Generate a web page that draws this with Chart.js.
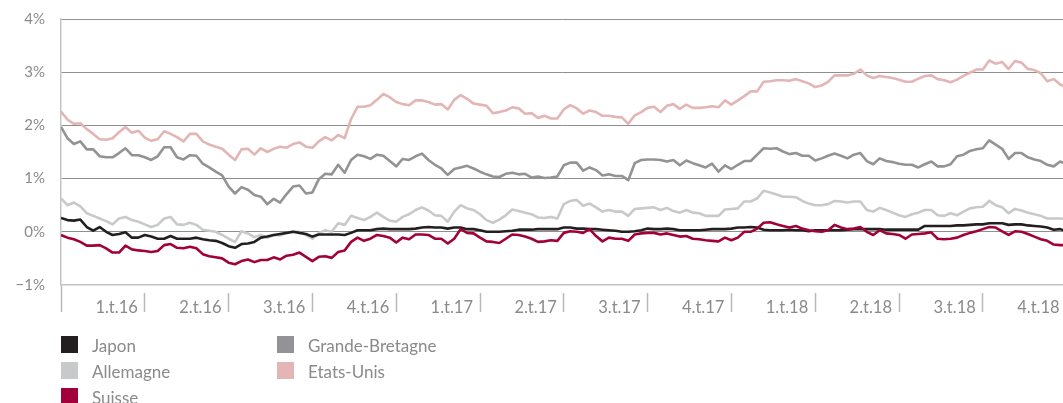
<!DOCTYPE html>
<html><head><meta charset="utf-8">
<script src="https://cdn.jsdelivr.net/npm/chart.js@4"></script>
<style>
html,body{margin:0;padding:0;background:#fff;}
#wrap{position:relative;width:1063px;height:403px;overflow:hidden;background:#fff;}
#c{position:absolute;left:0;top:0;}
.sw{position:absolute;width:17px;height:17px;}
.lt{position:absolute;font-family:Lato,"Open Sans",sans-serif;font-size:17px;color:#8a8a8a;line-height:17px;white-space:nowrap;}
</style></head>
<body>
<div id="wrap"><canvas id="c" width="1063" height="403"></canvas><div id="legend"></div></div>
<script>
const quarterLabels = ['1.t.16','2.t.16','3.t.16','4.t.16','1.t.17','2.t.17','3.t.17','4.t.17','1.t.18','2.t.18','3.t.18','4.t.18'];
const quarterTickWeeks = [0,13,26,39,52,65,78,91,104,117,130,143,156];
const yTicks = [-1,0,1,2,3,4];

const japon = [0.26,0.22,0.21,0.23,0.09,0.02,0.09,0.00,-0.06,-0.04,-0.01,-0.11,-0.11,-0.06,-0.09,-0.13,-0.13,-0.08,-0.13,-0.13,-0.13,-0.11,-0.14,-0.16,-0.17,-0.21,-0.27,-0.30,-0.23,-0.22,-0.19,
 -0.11,-0.09,-0.06,-0.04,-0.02,0.00,-0.02,-0.04,-0.09,-0.05,-0.05,-0.05,-0.05,-0.06,-0.02,0.03,0.03,0.03,0.05,0.06,0.05,0.05,0.05,0.05,0.06,0.08,0.09,0.08,0.08,0.06,0.08,
 0.08,0.05,0.05,0.03,0.00,0.00,0.00,0.01,0.02,0.04,0.04,0.04,0.05,0.05,0.05,0.05,0.08,0.08,0.06,0.06,0.05,0.05,0.04,0.03,0.02,0.00,0.00,0.01,0.03,0.06,0.05,
 0.05,0.06,0.05,0.03,0.03,0.03,0.03,0.04,0.05,0.05,0.05,0.06,0.08,0.08,0.09,0.08,0.04,0.03,0.03,0.03,0.04,0.03,0.03,0.01,0.03,0.03,0.03,0.03,0.03,0.04,0.05,
 0.05,0.05,0.05,0.05,0.04,0.04,0.04,0.04,0.04,0.04,0.11,0.11,0.11,0.11,0.11,0.12,0.12,0.13,0.14,0.14,0.16,0.16,0.16,0.13,0.14,0.14,0.12,0.11,0.10,0.08,0.04,0.05,0.01];

const allemagne = [0.63,0.50,0.55,0.48,0.35,0.30,0.25,0.20,0.14,0.25,0.28,0.22,0.19,0.14,0.09,0.13,0.25,0.28,0.14,0.13,0.17,0.13,0.04,0.02,0.00,-0.06,-0.13,-0.19,0.01,-0.03,-0.10,
 -0.06,-0.11,-0.06,-0.07,-0.02,0.00,0.00,-0.06,-0.13,-0.02,0.03,0.00,0.16,0.13,0.30,0.26,0.22,0.28,0.36,0.28,0.21,0.19,0.28,0.33,0.41,0.46,0.40,0.31,0.30,0.19,0.38,
 0.50,0.44,0.41,0.33,0.22,0.17,0.23,0.31,0.42,0.39,0.36,0.33,0.27,0.26,0.28,0.25,0.52,0.58,0.60,0.49,0.53,0.46,0.38,0.41,0.38,0.38,0.30,0.43,0.44,0.45,0.46,
 0.41,0.45,0.39,0.36,0.41,0.36,0.35,0.30,0.30,0.30,0.42,0.43,0.44,0.57,0.57,0.63,0.77,0.74,0.70,0.66,0.66,0.65,0.58,0.53,0.50,0.50,0.52,0.58,0.57,0.55,0.57,
 0.57,0.41,0.38,0.45,0.41,0.36,0.31,0.28,0.33,0.36,0.41,0.41,0.31,0.30,0.35,0.31,0.38,0.44,0.46,0.47,0.58,0.50,0.46,0.35,0.43,0.40,0.36,0.33,0.30,0.25,0.25,0.25,0.24];

const suisse = [-0.06,-0.11,-0.14,-0.19,-0.26,-0.26,-0.25,-0.31,-0.39,-0.39,-0.26,-0.33,-0.35,-0.36,-0.38,-0.36,-0.25,-0.23,-0.30,-0.31,-0.28,-0.31,-0.42,-0.46,-0.48,-0.50,-0.58,-0.61,-0.55,-0.52,-0.57,
 -0.53,-0.53,-0.48,-0.52,-0.45,-0.43,-0.39,-0.47,-0.55,-0.47,-0.46,-0.49,-0.38,-0.35,-0.19,-0.11,-0.17,-0.13,-0.06,-0.08,-0.11,-0.20,-0.11,-0.14,-0.05,-0.05,-0.06,-0.13,-0.13,-0.22,-0.13,
 0.05,-0.02,-0.03,-0.11,-0.18,-0.19,-0.21,-0.13,-0.05,-0.06,-0.09,-0.13,-0.19,-0.18,-0.16,-0.17,-0.02,0.01,0.00,-0.02,0.05,-0.08,-0.18,-0.11,-0.13,-0.13,-0.17,-0.05,-0.03,-0.02,-0.02,
 -0.05,-0.03,-0.06,-0.09,-0.08,-0.13,-0.14,-0.16,-0.17,-0.18,-0.11,-0.16,-0.11,0.00,0.00,0.06,0.17,0.18,0.14,0.11,0.08,0.11,0.06,0.03,0.01,0.00,0.03,0.13,0.08,0.05,0.06,
 0.09,0.00,-0.06,0.03,-0.03,-0.04,-0.06,-0.13,-0.05,-0.04,-0.03,-0.01,-0.13,-0.14,-0.13,-0.11,-0.06,-0.02,0.01,0.05,0.09,0.08,0.01,-0.06,0.01,0.00,-0.04,-0.09,-0.14,-0.17,-0.24,-0.25,-0.25];

const grandeBretagne = [1.97,1.76,1.65,1.70,1.55,1.55,1.42,1.40,1.40,1.48,1.57,1.44,1.44,1.40,1.35,1.42,1.59,1.59,1.40,1.36,1.44,1.43,1.28,1.21,1.13,1.06,0.85,0.72,0.84,0.79,0.69,
 0.66,0.52,0.62,0.55,0.71,0.85,0.87,0.72,0.74,0.99,1.09,1.08,1.26,1.11,1.35,1.45,1.42,1.37,1.45,1.43,1.33,1.23,1.37,1.35,1.42,1.47,1.35,1.26,1.19,1.07,1.18,
 1.21,1.24,1.19,1.13,1.08,1.04,1.03,1.09,1.11,1.08,1.09,1.02,1.04,1.01,1.02,1.04,1.25,1.30,1.30,1.15,1.21,1.16,1.06,1.08,1.05,1.05,0.97,1.29,1.35,1.36,1.36,
 1.35,1.32,1.35,1.25,1.34,1.29,1.25,1.21,1.28,1.13,1.25,1.18,1.26,1.33,1.33,1.45,1.57,1.56,1.57,1.51,1.46,1.48,1.43,1.43,1.34,1.38,1.43,1.47,1.43,1.38,1.45,
 1.48,1.33,1.27,1.38,1.33,1.31,1.28,1.26,1.26,1.21,1.27,1.32,1.23,1.23,1.27,1.42,1.45,1.52,1.55,1.57,1.72,1.64,1.56,1.37,1.48,1.48,1.40,1.36,1.33,1.26,1.23,1.32,1.28];

const etatsUnis = [2.26,2.11,2.03,2.04,1.93,1.84,1.74,1.73,1.76,1.87,1.97,1.86,1.90,1.77,1.71,1.74,1.89,1.84,1.78,1.70,1.84,1.84,1.70,1.64,1.60,1.56,1.45,1.35,1.55,1.56,1.45,
 1.57,1.50,1.56,1.60,1.58,1.65,1.68,1.60,1.58,1.70,1.78,1.72,1.82,1.76,2.12,2.35,2.35,2.38,2.48,2.59,2.53,2.44,2.40,2.38,2.47,2.47,2.44,2.39,2.40,2.30,2.48,
 2.57,2.50,2.41,2.39,2.37,2.23,2.25,2.28,2.34,2.32,2.22,2.23,2.14,2.18,2.13,2.13,2.30,2.38,2.32,2.22,2.28,2.25,2.18,2.18,2.16,2.15,2.03,2.19,2.25,2.33,2.35,
 2.25,2.37,2.40,2.31,2.39,2.33,2.33,2.34,2.36,2.34,2.47,2.39,2.47,2.55,2.64,2.64,2.82,2.83,2.85,2.85,2.84,2.87,2.83,2.79,2.72,2.75,2.82,2.94,2.94,2.94,2.97,
 3.05,2.94,2.89,2.93,2.91,2.89,2.86,2.82,2.82,2.88,2.93,2.94,2.87,2.85,2.81,2.86,2.93,2.99,3.05,3.05,3.22,3.16,3.19,3.06,3.21,3.18,3.06,3.04,2.98,2.83,2.87,2.77,2.70];

const weeks = japon.map((_, i) => i);
const toPts = arr => arr.map((v, i) => ({x: weeks[i], y: v}));

const FONT = 'Lato, "Open Sans", sans-serif';
const series = [
  {label:'Japon', data: japon, color:'#231f20', order:1},
  {label:'Allemagne', data: allemagne, color:'#c8c9cb', order:2},
  {label:'Suisse', data: suisse, color:'#a1003a', order:0},
  {label:'Grande-Bretagne', data: grandeBretagne, color:'#939396', order:3},
  {label:'Etats-Unis', data: etatsUnis, color:'#e3b5b5', order:4}
];

const chart = new Chart(document.getElementById('c'), {
  type: 'line',
  data: {
    datasets: series.map(s => ({
      label: s.label, data: toPts(s.data), borderColor: s.color, backgroundColor: s.color,
      borderWidth: 2.6, pointRadius: 0, tension: 0, borderJoinStyle: 'round', order: s.order, fill: false
    }))
  },
  options: {
    responsive: false, animation: false, devicePixelRatio: 1,
    layout: { padding: { top: 19, right: 0, bottom: 83, left: 0 } },
    plugins: { legend: { display: false }, tooltip: { enabled: false } },
    scales: {
      x: {
        type: 'linear', min: 0, max: 155.44,
        afterBuildTicks: s => { s.ticks = quarterTickWeeks.map(v => ({value: v})); },
        afterFit: s => { s.paddingLeft = 0; s.paddingRight = 0; s.height = 35; },
        border: { display: false },
        grid: {
          drawOnChartArea: false, drawTicks: true, tickLength: 27,
          tickColor: '#b9b9b9', tickWidth: 1.5,
          tickBorderDash: ctx => ctx.index === 0 ? [] : [0, 8, 19, 60]
        },
        ticks: {
          autoSkip: false, maxRotation: 0, minRotation: 0, align: 'end', labelOffset: -7, padding: -14,
          color: '#8a8a8a', font: { family: FONT, size: 16.5 },
          callback: (v, i) => i === 0 ? '' : quarterLabels[i - 1]
        }
      },
      y: {
        min: -1, max: 4,
        afterBuildTicks: s => { s.ticks = yTicks.map(v => ({value: v})); },
        afterFit: s => { s.width = 61; s.paddingTop = 0; s.paddingBottom = 0; },
        border: { display: true, color: '#c4c4c4', width: 1.5 },
        grid: {
          drawTicks: false,
          color: ctx => ctx.tick && ctx.tick.value === -1 ? '#c4c4c4' : '#8f8f8f',
          lineWidth: ctx => ctx.tick && ctx.tick.value === -1 ? 1.5 : 1
        },
        ticks: {
          padding: 16, color: '#8a8a8a', font: { family: FONT, size: 15 },
          callback: v => (v < 0 ? '\u2212' + Math.abs(v) : v) + '%'
        }
      }
    }
  }
});

// HTML legend in two columns, built from the datasets
const legend = document.getElementById('legend');
const colX = [61, 277], rowY = [336, 362, 388];
chart.data.datasets.forEach((ds, k) => {
  const col = k < 3 ? 0 : 1, row = k < 3 ? k : k - 3;
  const sw = document.createElement('div');
  sw.className = 'sw'; sw.style.left = colX[col] + 'px'; sw.style.top = rowY[row] + 'px'; sw.style.background = ds.borderColor;
  const t = document.createElement('div');
  t.className = 'lt'; t.style.left = (colX[col] + 31) + 'px'; t.style.top = (rowY[row] + 1) + 'px'; t.textContent = ds.label;
  legend.appendChild(sw); legend.appendChild(t);
});
</script>
</body></html>
